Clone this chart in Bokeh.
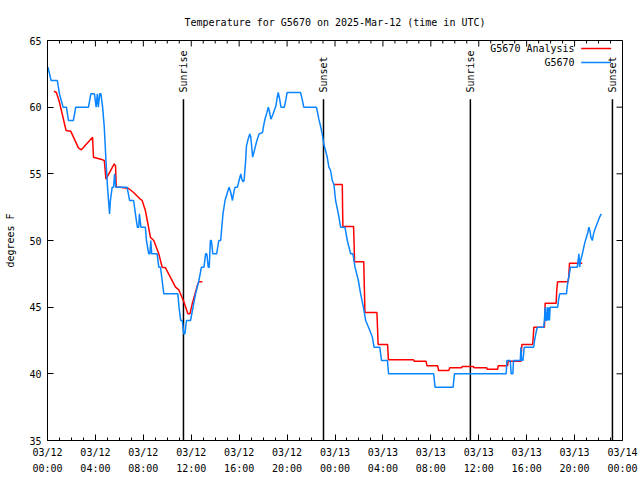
import math
from bokeh.plotting import figure
from bokeh.models import FixedTicker, Range1d, ColumnDataSource
from bokeh.core.properties import value
from bokeh.embed import file_html
from bokeh.resources import INLINE

# ---- data (hours since 03/12 00:00 UTC, temperature in deg F) ----
obs_hours = [0.04, 0.3, 0.82, 1.0, 1.3, 1.58, 1.75, 2.16, 2.36, 3.42, 3.62, 3.92, 4.06, 4.16, 4.24, 4.36,
             4.46, 4.6, 4.74, 4.88, 5.01, 5.18, 5.25, 5.4, 5.52, 5.6, 5.7, 6.64, 6.86, 7.19, 7.34, 7.5,
             7.62, 7.67, 7.8, 8.17, 8.26, 8.45, 8.55, 8.62, 8.7, 9.15, 9.29, 9.43, 9.57, 9.71, 10.88,
             10.98, 11.12, 11.25, 11.38, 11.47, 11.6, 11.94, 12.15, 12.36, 12.64, 12.85, 13.06, 13.2,
             13.3, 13.42, 13.5, 13.6, 13.68, 13.8, 14.12, 14.3, 14.46, 14.55, 14.65, 14.82, 15.02,
             15.16, 15.3, 15.44, 15.58, 15.66, 15.86, 15.99, 16.14, 16.22, 16.33, 16.41, 16.5, 16.56,
             16.61, 16.75, 16.89, 16.97, 17.06, 17.12, 17.2, 17.34, 17.48, 17.67, 17.95, 18.04, 18.15,
             18.32, 18.43, 18.51, 18.65, 18.79, 18.93, 19.07, 19.15, 19.26, 19.38, 19.49, 19.77, 19.91,
             20.0, 21.12, 21.26, 21.39, 22.45, 22.51, 22.65, 22.79, 22.93, 23.06, 23.21, 23.35, 23.49,
             23.63, 23.77, 23.91, 24.05, 24.28, 24.47, 24.83, 25.03, 25.31, 25.5, 25.67, 25.95, 26.14,
             26.37, 26.56, 26.84, 27.12, 27.26, 27.74, 27.88, 28.38, 28.47, 32.24, 32.35, 33.86, 33.97,
             38.29, 38.35, 38.63, 38.71, 38.85, 38.9, 39.47, 39.52, 39.58, 39.69, 39.8, 40.58, 40.66,
             40.76, 40.86, 40.92, 41.42, 41.48, 41.54, 41.6, 41.66, 41.72, 41.78, 41.84, 41.9, 41.96,
             42.59, 42.67, 42.76, 43.32, 43.38, 43.46, 43.58, 43.66, 44.22, 44.28, 44.36, 44.42, 44.5,
             44.65, 44.83, 44.94, 45.11, 45.19, 45.28, 45.36, 45.48, 45.56, 45.66, 45.81, 45.96, 46.09,
             46.23]
obs_temps = [63, 62, 62, 61, 60, 60, 59, 59, 60, 60, 61, 61, 60, 61, 60, 61,
             61, 60, 58.5, 56, 54, 52, 53, 54, 54, 55, 54, 54, 53, 53, 52, 51,
             51, 52, 51, 51, 50, 49, 49, 50, 49, 49, 48, 48, 47, 46, 46,
             45, 44, 44, 43, 43, 44, 44, 45, 46, 47, 48, 48, 49,
             49, 48, 48, 50, 50, 49, 49, 50, 50, 51, 52, 53, 53.6,
             54, 53.6, 53, 53.75, 54, 54, 54.5, 55, 54.6, 54.4, 54.5, 55.5, 56.25,
             57.1, 57.6, 58, 57.75, 56.9, 56.25, 56.5, 57, 57.5, 58, 58.1, 58.6, 59.1,
             59.6, 60, 59.75, 59.1, 59.4, 59.75, 60.1, 60.6, 61.1, 60.6, 60, 60, 60.6,
             61.1, 61.1, 60.6, 60, 60, 59.75, 59.1, 58.6, 58, 57.25, 56.75, 56.25, 55.5,
             55.25, 54.5, 54.2, 53, 52, 51, 51, 50, 49, 49, 48, 47, 46,
             45, 44, 43.4, 42.75, 42, 42, 41, 41, 40, 40, 39, 39, 40,
             40, 41, 41, 40, 40, 41, 41, 42, 41, 41, 42, 42, 42.5,
             43, 43.4, 43.5, 43.5, 44, 45, 44, 44, 45, 44, 45, 44, 45,
             45, 45.6, 46, 46, 46.5, 47, 47.6, 48, 48, 48.4, 49, 48, 48.5,
             49, 49.75, 50.1, 50.6, 51, 50.75, 50.25, 50, 50.4, 50.75, 51.1, 51.45, 51.75,
             52]

nan = float("nan")
analysis_hours = [0.54, 0.74, 0.96, 1.16, 1.55, 1.94, 2.58, 2.83, 3.76, 3.84, 4.6, 4.74, 4.88, 5.57,
                  5.68, 5.74, 6.08, 6.77, 7.19, 7.75, 7.9, 8.17, 8.59, 8.87, 9.29, 9.57, 9.85, 10.69,
                  10.96, 11.38, 11.72, 11.89, 12.08, 12.5, 12.64, 12.93,
                  nan,
                  23.91, 24.61, 24.63, 24.66, 25.55, 25.6, 25.63, 26.4, 26.45, 26.5, 27.5, 27.55, 27.6,
                  28.39, 28.43, 28.46, 30.56, 30.6, 31.6, 31.68, 32.57, 32.65, 33.5, 33.58, 34.55,
                  34.62, 35.55, 35.62, 36.66, 36.7, 37.58, 37.62, 38.4, 38.46, 39.52, 39.56, 39.6,
                  40.5, 40.56, 40.6, 41.48, 41.52, 41.54, 42.46, 42.51, 42.58, 43.46, 43.51, 43.58,
                  44.64]
analysis_temps = [61.2, 61.1, 60.5, 59.75, 58.25, 58.2, 56.95, 56.8, 57.75, 56.25, 56.05, 56.0, 54.6, 55.75,
                  55.6, 54.0, 54.0, 53.9, 53.6, 53.1, 53.0, 52.25, 50.25, 50.0, 49.0, 48.0, 47.95, 46.5,
                  46.3, 45.4, 44.5, 44.5, 45.25, 46.6, 46.9, 46.9,
                  nan,
                  54.2, 54.2, 52.6, 51.05, 51.05, 49.6, 48.4, 48.4, 46.5, 44.6, 44.6, 43.4, 42.2,
                  42.2, 41.5, 41.05, 41.05, 40.95, 40.95, 40.6, 40.6, 40.25, 40.25, 40.45, 40.45,
                  40.55, 40.55, 40.45, 40.45, 40.35, 40.35, 40.6, 40.6, 40.95, 40.95, 41.6, 42.2,
                  42.2, 42.9, 43.5, 43.5, 44.45, 45.3, 45.3, 46.25, 46.9, 46.9, 47.25, 48.3,
                  48.3]

sun_events = ["Sunrise", "Sunset", "Sunrise", "Sunset"]
sun_hours = [11.35, 23.04, 35.3, 47.16]

x_ticks = [0, 4, 8, 12, 16, 20, 24, 28, 32, 36, 40, 44, 48]
x_minor_ticks = [h for h in range(0, 49) if h % 4 != 0]
x_tick_labels = ["03/12\n00:00", "03/12\n04:00", "03/12\n08:00", "03/12\n12:00", "03/12\n16:00",
                 "03/12\n20:00", "03/13\n00:00", "03/13\n04:00", "03/13\n08:00", "03/13\n12:00",
                 "03/13\n16:00", "03/13\n20:00", "03/14\n00:00"]
y_ticks = [35, 40, 45, 50, 55, 60, 65]

series_names = ["G5670 Analysis", "G5670"]
series_colors = ["#ff0000", "#0a85ff"]

FONT = "DejaVu Sans Mono"
FS = "10px"
X0, X1, Y0, Y1 = 0, 48, 35, 65

p = figure(width=640, height=480, x_range=Range1d(X0, X1), y_range=Range1d(Y0, Y1),
           output_backend="svg", toolbar_location=None,
           min_border_left=47, min_border_right=18, min_border_top=40, min_border_bottom=40,
           title="Temperature for G5670 on 2025-Mar-12 (time in UTC)")
p.title.text_font = FONT
p.title.text_font_size = FS
p.title.text_font_style = "normal"
p.title.text_color = "black"
p.title.align = "center"
p.title.standoff = 26
p.xgrid.visible = False
p.ygrid.visible = False
p.outline_line_color = "black"
p.outline_line_width = 1
p.background_fill_color = "white"
p.border_fill_color = "white"

def style_axis(ax):
    ax.axis_line_color = "black"
    ax.major_tick_line_color = "black"
    ax.minor_tick_line_color = "black"
    ax.major_tick_in = 6
    ax.major_tick_out = 0
    ax.minor_tick_in = 3
    ax.minor_tick_out = 0
    ax.major_label_text_font = FONT
    ax.major_label_text_font_size = FS
    ax.major_label_text_color = "black"
    ax.axis_label_text_font = FONT
    ax.axis_label_text_font_size = FS
    ax.axis_label_text_font_style = "normal"
    ax.axis_label_text_color = "black"

xa = p.xaxis[0]
xa.ticker = FixedTicker(ticks=x_ticks, minor_ticks=x_minor_ticks)
xa.major_label_overrides = {t: lab for t, lab in zip(x_ticks, x_tick_labels)}
style_axis(xa)
xa.major_label_standoff = 6
xa.major_label_text_line_height = 1.5

ya = p.yaxis[0]
ya.ticker = FixedTicker(ticks=y_ticks)
style_axis(ya)
ya.minor_tick_in = 0
ya.major_label_standoff = 6
ya.axis_label = "degrees F"
ya.axis_label_standoff = 10

# mirrored tick marks on the top and right edges of the frame (gnuplot style)
px_per_x = (640 - 47 - 18) / (X1 - X0)
px_per_y = (480 - 40 - 40) / (Y1 - Y0)
p.segment(x0=x_ticks, y0=Y1, x1=x_ticks, y1=Y1 - 6 / px_per_y, line_color="black", line_width=1)
p.segment(x0=x_minor_ticks, y0=Y1, x1=x_minor_ticks, y1=Y1 - 3 / px_per_y, line_color="black", line_width=1)
p.segment(x0=X1, y0=y_ticks, x1=X1 - 6 / px_per_x, y1=y_ticks, line_color="black", line_width=1)

# sunrise / sunset markers
sun_src = ColumnDataSource(dict(h=sun_hours, name=sun_events))
p.segment(x0="h", y0=Y0, x1="h", y1=60.6, source=sun_src, line_color="black", line_width=1.5)
p.text(x="h", y=61.1, text="name", source=sun_src, angle=math.pi / 2,
       text_align="left", text_baseline="middle",
       text_font=value(FONT), text_font_size=FS, text_color="black")

# series
p.line(analysis_hours, analysis_temps, line_color=series_colors[0], line_width=1.5)
p.line(obs_hours, obs_temps, line_color=series_colors[1], line_width=1.5)

# key (top right, text right-aligned, sample on the right)
key_src = ColumnDataSource(dict(name=series_names, color=series_colors, y=[64.4, 63.35]))
p.text(x=44.0, y="y", text="name", source=key_src, text_align="right", text_baseline="middle",
       text_font=value(FONT), text_font_size=FS, text_color="black")
p.segment(x0=44.55, y0="y", x1=47.05, y1="y", source=key_src, line_color="color", line_width=1.5)

open("out.html", "w").write(file_html(p, INLINE, "Temperature for G5670"))
